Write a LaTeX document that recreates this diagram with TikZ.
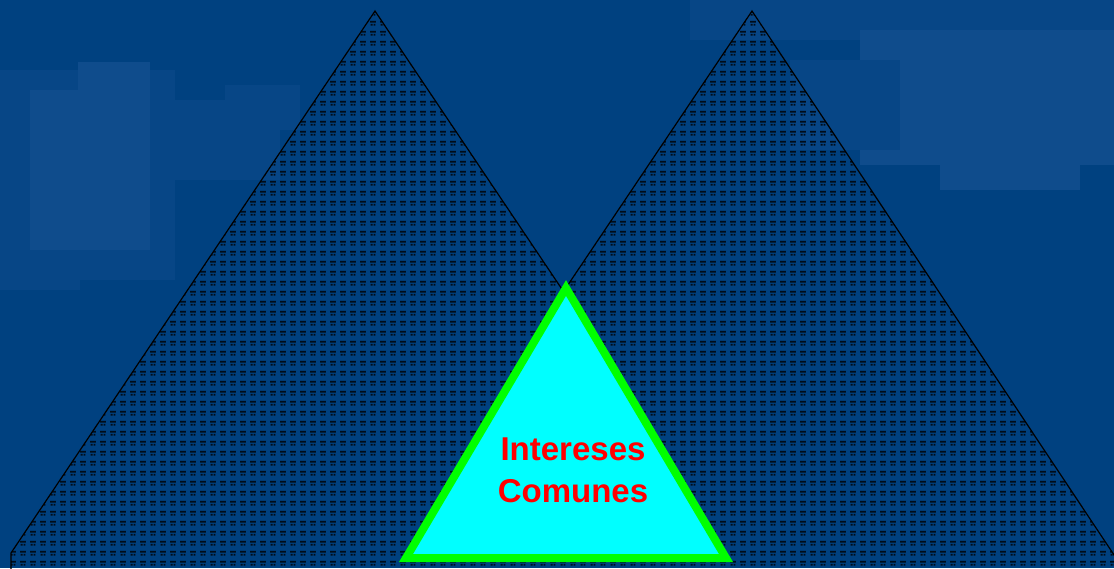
\documentclass[tikz,border=0pt]{standalone}
\usepackage{fontspec}
\setmainfont{Liberation Sans}
\usetikzlibrary{patterns}
\definecolor{bgblue}{RGB}{0,65,128}
\definecolor{cloud}{RGB}{15,76,140}
\definecolor{cloudb}{RGB}{7,70,134}
\definecolor{cyanfill}{RGB}{0,255,255}
\definecolor{greenline}{RGB}{0,255,0}
\definecolor{redtext}{RGB}{255,0,0}
\pgfdeclarepatternformonly{bricklines}{\pgfqpoint{0pt}{0pt}}{\pgfqpoint{10pt}{10pt}}{\pgfqpoint{10pt}{10pt}}{%
  \pgfpathrectangle{\pgfqpoint{0pt}{7pt}}{\pgfqpoint{6.5pt}{2pt}}%
  \pgfpathrectangle{\pgfqpoint{0.8pt}{3.6pt}}{\pgfqpoint{2pt}{2pt}}%
  \pgfpathrectangle{\pgfqpoint{4pt}{3.6pt}}{\pgfqpoint{2pt}{2pt}}%
  \pgfusepath{fill}}
\tikzset{
  pyramid/.style={pattern=bricklines, pattern color=black!80!bgblue, draw=black, line width=1.2pt, line join=miter},
  common/.style={fill=cyanfill, draw=greenline, line width=8pt, line join=miter},
  label/.style={text=redtext, font=\bfseries\fontsize{33}{42}\selectfont, align=center, inner sep=0pt},
  cloudpatch/.style={fill=cloud, draw=none},
  cloudpatchb/.style={fill=cloudb, draw=none}
}
\begin{document}
\begin{tikzpicture}[x=1pt,y=-1pt]
\useasboundingbox (0,0) rectangle (1114,568);
\fill[bgblue] (0,0) rectangle (1114,568);
\begin{scope}
\clip (0,0) rectangle (1114,568);
% cloudy patches
\fill[cloudpatchb] (0,70) rectangle (175,280);
\fill[cloudpatch] (30,90) rectangle (150,250);
\fill[cloudpatch] (78,62) rectangle (150,110);
\fill[cloudpatchb] (150,100) rectangle (280,180);
\fill[cloudpatchb] (225,85) rectangle (300,130);
\fill[cloudpatchb] (0,250) rectangle (80,290);
\fill[cloudpatchb] (690,0) rectangle (1114,40);
\fill[cloudpatch] (860,30) rectangle (1114,165);
\fill[cloudpatchb] (790,60) rectangle (900,150);
\fill[cloudpatch] (940,100) rectangle (1080,190);
\fill[cloudpatchb] (730,0) rectangle (830,30);
% pyramids (joined outline)
\coordinate (La) at (375,11);
\coordinate (Lb) at (11,553);
\coordinate (Lc) at (11,600);
\coordinate (X) at (563.5,291.5);
\coordinate (Ra) at (752,11);
\coordinate (Rc) at (1144,600);
\path[pyramid] (Lc) -- (Lb) -- (La) -- (X) -- (Ra) -- (Rc);
\end{scope}
% common interests triangle
\coordinate (Ca) at (566,288);
\coordinate (Cb) at (406,558);
\coordinate (Cc) at (726,558);
\draw[common] (Ca) -- (Cb) -- (Cc) -- cycle;
\node[label] (txt) at (573,470) {Intereses\\Comunes};
\end{tikzpicture}
\end{document}
